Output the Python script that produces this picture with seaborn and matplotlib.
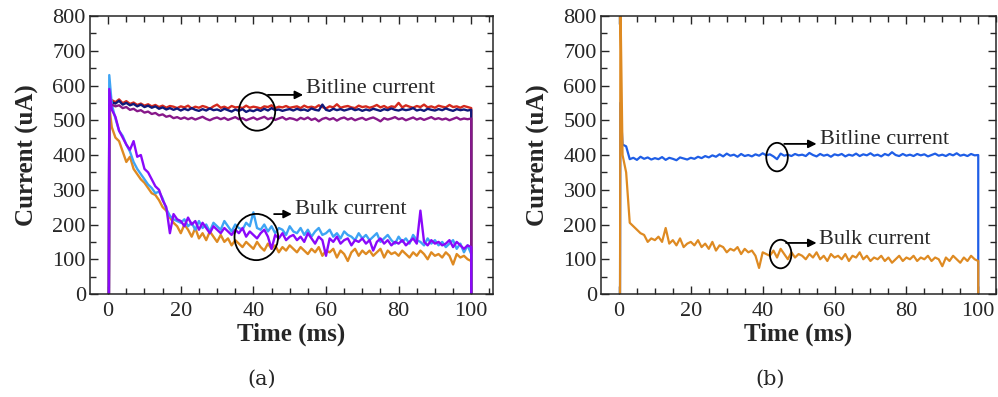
import numpy as np
import pandas as pd
import seaborn as sns
import matplotlib
matplotlib.use("Agg")
import matplotlib.pyplot as plt
from matplotlib.patches import Ellipse

# values at t = 1..100 ms (one per ms), plus the first peak near t = 0
a_red_peak = 560
a_red = [558, 552, 560, 549, 555, 547, 551, 544, 548, 542,
         546, 540, 544, 538, 542, 536, 541, 539, 535, 540,
         537, 542, 534, 539, 536, 541, 538, 533, 540, 545,
         536, 539, 534, 541, 537, 538, 535, 542, 536, 539,
         537, 534, 540, 538, 543, 535, 539, 537, 541, 536,
         538, 540, 535, 542, 537, 539, 536, 543, 538, 534,
         540, 537, 546, 536, 539, 541, 537, 535, 542, 538,
         540, 536, 539, 544, 537, 541, 535, 540, 538, 550,
         537, 543, 539, 536, 541, 538, 545, 537, 540, 536,
         542, 539, 537, 544, 538, 540, 536, 541, 538, 535]

a_navy_peak = 555
a_navy = [552, 548, 556, 545, 550, 543, 547, 540, 545, 538,
          542, 536, 540, 533, 537, 531, 535, 530, 534, 528,
          533, 529, 535, 530, 527, 532, 528, 534, 529, 531,
          527, 533, 529, 525, 531, 527, 532, 524, 529, 526,
          531, 527, 533, 528, 535, 529, 531, 527, 530, 532,
          528, 533, 529, 531, 527, 534, 530, 528, 545, 530,
          527, 533, 529, 532, 528, 531, 534, 529, 532, 527,
          531, 528, 533, 530, 527, 532, 529, 534, 530, 528,
          532, 529, 531, 535, 528, 531, 527, 533, 530, 528,
          532, 529, 534, 530, 527, 532, 529, 531, 528, 530]

a_plum_peak = 545
a_plum = [545, 540, 543, 535, 538, 530, 533, 526, 529, 522,
          525, 518, 521, 514, 517, 510, 513, 506, 509, 504,
          508, 503, 507, 502, 506, 510, 504, 500, 505, 508,
          503, 507, 501, 505, 509, 503, 506, 500, 504, 508,
          502, 506, 510, 503, 507, 501, 505, 509, 502, 506,
          504, 500, 507, 503, 508, 501, 505, 497, 504, 507,
          502, 506, 499, 505, 508, 502, 506, 500, 504, 507,
          501, 505, 508, 503, 497, 506, 502, 505, 509, 503,
          506, 500, 504, 508, 502, 506, 501, 505, 509, 503,
          506, 502, 505, 500, 504, 508, 502, 505, 503, 505]

a_sky_peak = 630
a_sky = [545, 505, 470, 455, 430, 410, 380, 360, 345, 330,
         315, 305, 290, 295, 275, 245, 225, 215, 210, 205,
         215, 195, 205, 185, 210, 190, 200, 180, 205, 195,
         185, 210, 195, 180, 200, 190, 185, 205, 195, 235,
         190, 185, 200, 180, 195, 175, 190, 185, 170, 195,
         180, 175, 190, 170, 185, 165, 180, 190, 170, 175,
         185, 165, 175, 160, 180, 170, 165, 155, 175, 160,
         170, 155, 165, 175, 150, 160, 170, 155, 145, 165,
         150, 160, 145, 170, 155, 150, 140, 160, 145, 155,
         140, 150, 135, 145, 155, 130, 145, 120, 140, 115]

a_orange_peak = 540
a_orange = [480, 450, 440, 410, 380, 395, 360, 345, 330, 320,
            305, 290, 285, 270, 250, 240, 220, 205, 195, 175,
            200, 185, 165, 190, 160, 175, 155, 180, 165, 150,
            170, 150, 160, 140, 155, 145, 135, 150, 140, 130,
            150, 135, 125, 145, 130, 140, 120, 135, 125, 140,
            130, 120, 135, 125, 115, 130, 120, 135, 110, 125,
            120, 130, 105, 125, 115, 95, 120, 130, 110, 125,
            115, 125, 110, 120, 130, 105, 125, 115, 120, 110,
            125, 115, 105, 120, 110, 125, 115, 100, 120, 110,
            115, 105, 120, 110, 85, 115, 105, 110, 100, 95]

a_violet_peak = 590
a_violet = [530, 510, 470, 450, 430, 415, 440, 395, 400, 360,
            350, 330, 310, 300, 270, 250, 175, 230, 215, 210,
            195, 220, 200, 210, 185, 205, 190, 175, 195, 185,
            175, 190, 180, 170, 185, 175, 190, 165, 180, 170,
            160, 175, 185, 165, 130, 170, 160, 175, 155, 165,
            170, 155, 165, 150, 175, 160, 145, 165, 155, 110,
            160, 150, 165, 145, 155, 160, 140, 155, 150, 160,
            145, 155, 125, 150, 160, 145, 155, 140, 150, 145,
            155, 140, 150, 160, 145, 240, 150, 140, 155, 145,
            150, 140, 145, 155, 135, 150, 140, 130, 140, 135]

b_blue_peak = 550
b_blue = [430, 425, 388, 392, 386, 395, 389, 393, 387, 391,
          388, 394, 386, 392, 389, 385, 393, 390, 387, 392,
          389, 395, 391, 397, 393, 399, 395, 402, 396, 404,
          398, 401, 395, 403, 397, 400, 396, 402, 398, 405,
          399, 402, 396, 388, 404, 398, 401, 397, 403, 399,
          401, 397, 406, 400, 396, 403, 398, 401, 395, 402,
          399, 403, 396, 401, 398, 404, 397, 402, 399, 405,
          398, 401, 396, 403, 399, 408, 400, 397, 403, 398,
          401, 397, 403, 399, 402, 396, 400, 404, 398, 401,
          397, 403, 399, 405, 398, 401, 397, 403, 399, 400]

b_orange_peak = 850
b_orange = [400, 350, 205, 195, 185, 175, 170, 150, 160, 155,
            165, 150, 190, 145, 155, 140, 160, 135, 145, 150,
            140, 155, 135, 145, 130, 150, 125, 140, 135, 120,
            130, 125, 135, 115, 130, 120, 125, 110, 75, 120,
            115, 110, 125, 105, 130, 115, 100, 120, 105, 115,
            110, 100, 115, 105, 120, 100, 110, 95, 115, 105,
            110, 100, 115, 95, 110, 105, 120, 100, 110, 95,
            105, 100, 110, 95, 105, 90, 100, 110, 95, 105,
            100, 110, 95, 105, 100, 110, 95, 105, 100, 80,
            105, 95, 110, 100, 90, 105, 95, 110, 100, 95]


def trace(peak, vals, t0):
    # pulse: rises from 0 at t0, runs over 1..100 ms, falls to 0 at 100 ms
    t = [t0, t0 + 0.1] + list(range(1, 101)) + [100]
    y = [0, peak] + vals + [0]
    return pd.DataFrame({"time": t, "current": y})


sns.set_style("ticks")
plt.rcParams["font.family"] = ["Liberation Serif", "DejaVu Serif"]
plt.rcParams["axes.linewidth"] = 1.1

fig = plt.figure(figsize=(9.98, 3.97), dpi=100)
ax_a = fig.add_axes([0.0902, 0.2594, 0.4038, 0.7003])
ax_b = fig.add_axes([0.6022, 0.2594, 0.3960, 0.7003])

panel_a = [
    (a_red_peak, a_red, "#d42a1e"),
    (a_navy_peak, a_navy, "#10197a"),
    (a_orange_peak, a_orange, "#de8a22"),
    (a_sky_peak, a_sky, "#3ea4f4"),
    (a_plum_peak, a_plum, "#87188a"),
    (a_violet_peak, a_violet, "#8a08fa"),
]
for peak, vals, col in panel_a:
    sns.lineplot(data=trace(peak, vals, 0.2), x="time", y="current", ax=ax_a,
                 estimator=None, sort=False, color=col, lw=1.7)

panel_b = [
    (b_blue_peak, b_blue, "#1f5ee6"),
    (b_orange_peak, b_orange, "#de8a22"),
]
for peak, vals, col in panel_b:
    sns.lineplot(data=trace(peak, vals, 0.3), x="time", y="current", ax=ax_b,
                 estimator=None, sort=False, color=col, lw=1.6)

for ax, xmax in [(ax_a, 106), (ax_b, 105)]:
    ax.set_xlim(-5, xmax)
    ax.set_ylim(0, 800)
    ax.set_xticks(range(0, 101, 20))
    ax.set_xticks(range(0, 106, 5), minor=True)
    ax.set_yticks(range(0, 801, 100))
    ax.set_yticks(range(0, 801, 50), minor=True)
    ax.tick_params(direction="in", top=True, right=True, which="both",
                   labelsize=16)
    ax.tick_params(axis="x", pad=6)
    ax.tick_params(axis="y", pad=3)
    ax.tick_params(which="major", length=6, width=1.0)
    ax.tick_params(which="minor", length=4, width=1.0)
    ax.set_xlabel("Time (ms)", fontsize=18, fontweight="bold", labelpad=1)
    ax.set_ylabel("Current (uA)", fontsize=18, fontweight="bold", labelpad=10)

# annotations
notes = [
    (ax_a, (41, 525), 10, 110, (44, 573), (53.7, 573), (54.5, 592), "Bitline current"),
    (ax_a, (40.8, 164), 12, 133, (45.7, 230), (50.6, 230), (51.4, 242), "Bulk current"),
    (ax_b, (44, 394), 6, 82, (46, 432), (55, 432), (56, 446), "Bitline current"),
    (ax_b, (45, 115), 6, 82, (46.5, 147), (55, 147), (55.7, 158), "Bulk current"),
]
for ax, c, w, h, a0, a1, tp, label in notes:
    ax.add_patch(Ellipse(c, w, h, fill=False, ec="black", lw=1.3, zorder=5))
    ax.annotate("", xy=a1, xytext=a0,
                arrowprops=dict(arrowstyle="-|>", color="black", lw=1.3,
                                mutation_scale=12, shrinkA=0, shrinkB=0))
    ax.text(tp[0], tp[1], label, fontsize=16, va="center", ha="left")

fig.text(0.262, 0.03, "(a)", fontsize=15, ha="center", family="DejaVu Serif")
fig.text(0.772, 0.03, "(b)", fontsize=15, ha="center", family="DejaVu Serif")

fig.savefig("out.png", dpi=100)
